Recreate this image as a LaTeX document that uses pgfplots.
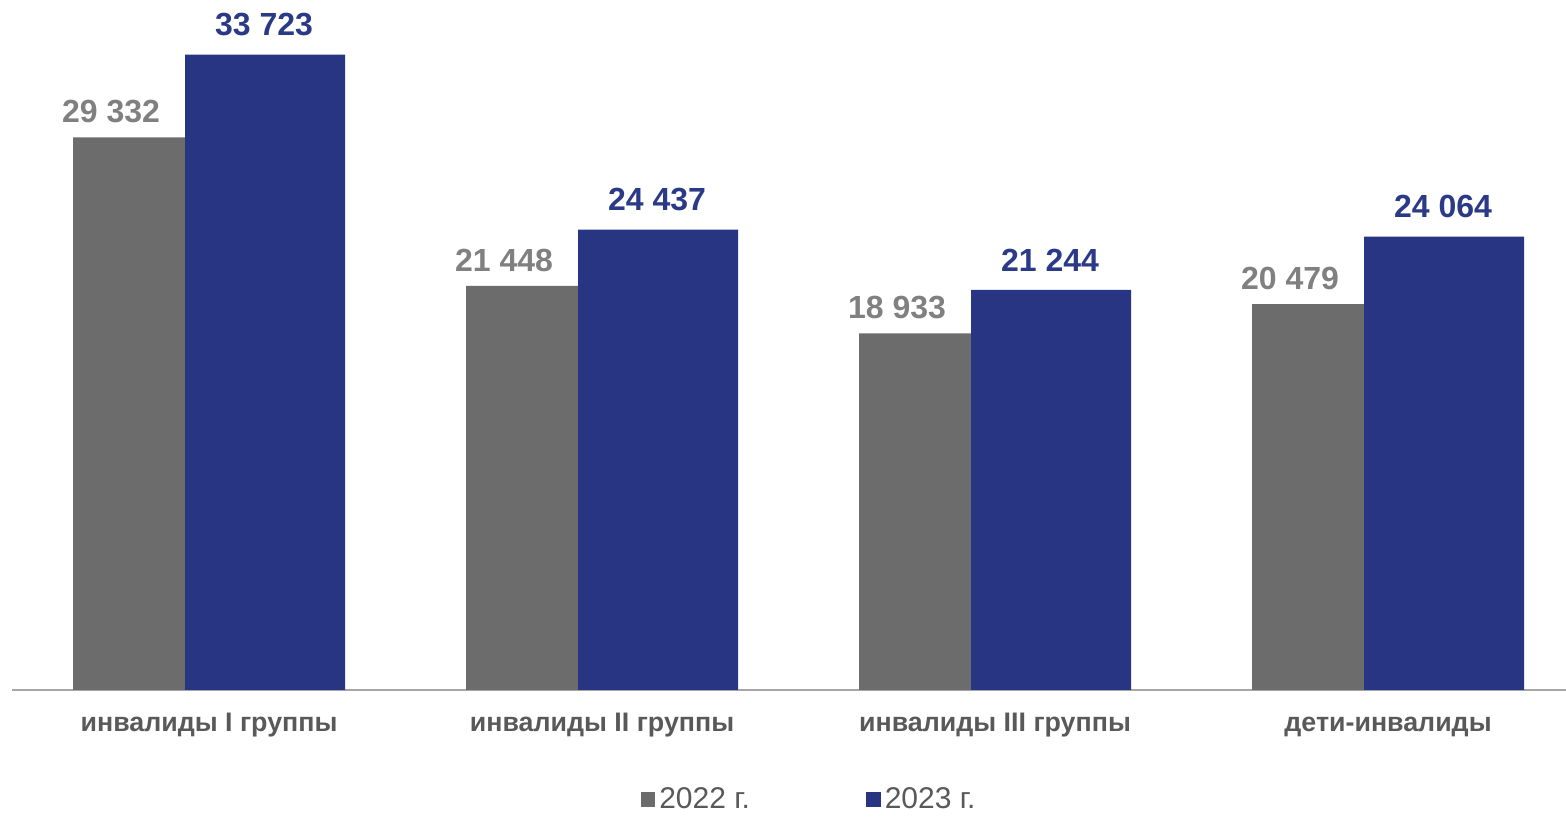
\documentclass[border=0pt]{standalone}
\usepackage{pgfplots}
\pgfplotsset{compat=1.18}
\usepackage{fontspec}
\setmainfont{Liberation Sans}
\definecolor{bargray}{HTML}{6C6C6C}
\definecolor{barblue}{HTML}{283582}
\definecolor{labgray}{HTML}{808080}
\definecolor{labblue}{HTML}{2B3A87}
\definecolor{txtgray}{HTML}{595959}
\definecolor{axgray}{HTML}{A6A6A6}
\begin{document}
\begin{tikzpicture}
\path[use as bounding box] (-6pt,-63.5pt) rectangle (777pt,345pt);
\begin{axis}[
  scale only axis,
  width=777pt, height=345pt,
  xmin=-0.50127, xmax=3.45293,
  ymin=0, ymax=36625,
  clip=false,
  hide y axis,
  axis x line*=bottom,
  x axis line style={-, color=axgray, line width=1pt},
  xtick={0,1,2,3},
  xticklabels={инвалиды I группы, инвалиды II группы, инвалиды III группы, дети-инвалиды},
  xtick style={draw=none},
  major tick length=0pt,
  xticklabel style={anchor=base, yshift=-21pt, text=txtgray, font=\fontsize{13.4}{15}\selectfont\bfseries},
  /pgf/number format/assume math mode=true,
  /pgf/number format/1000 sep={\ },
  legend columns=2,
  legend style={at={(rel axis cs:0.5135,-0.159)}, anchor=center, draw=none, fill=none,
    font=\fontsize{15}{17}\selectfont, text=txtgray,
    /tikz/every even column/.append style={column sep=56pt},
    inner sep=0pt},
]
\addplot[ybar, bar width=80pt, bar shift=-28pt, fill=bargray, draw=none,
  nodes near coords,
  every node near coord/.append style={anchor=south, inner sep=0pt, yshift=7pt, xshift=-49pt,
    text=labgray, font=\fontsize{16}{19}\selectfont\bfseries},
  legend image code/.code={\fill[bargray] (0pt,-3.7pt) rectangle (7.4pt,3.7pt);}]
  coordinates {(0,29332) (1,21448) (2,18933) (3,20479)};
\addlegendentry{2022 г.}
\addplot[ybar, bar width=80pt, bar shift=28pt, fill=barblue, draw=none,
  nodes near coords,
  every node near coord/.append style={anchor=south, inner sep=0pt, yshift=9pt, xshift=27.5pt,
    text=labblue, font=\fontsize{16}{19}\selectfont\bfseries},
  legend image code/.code={\fill[barblue] (0pt,-3.7pt) rectangle (7.4pt,3.7pt);}]
  coordinates {(0,33723) (1,24437) (2,21244) (3,24064)};
\addlegendentry{2023 г.}
\end{axis}
\end{tikzpicture}
\end{document}
